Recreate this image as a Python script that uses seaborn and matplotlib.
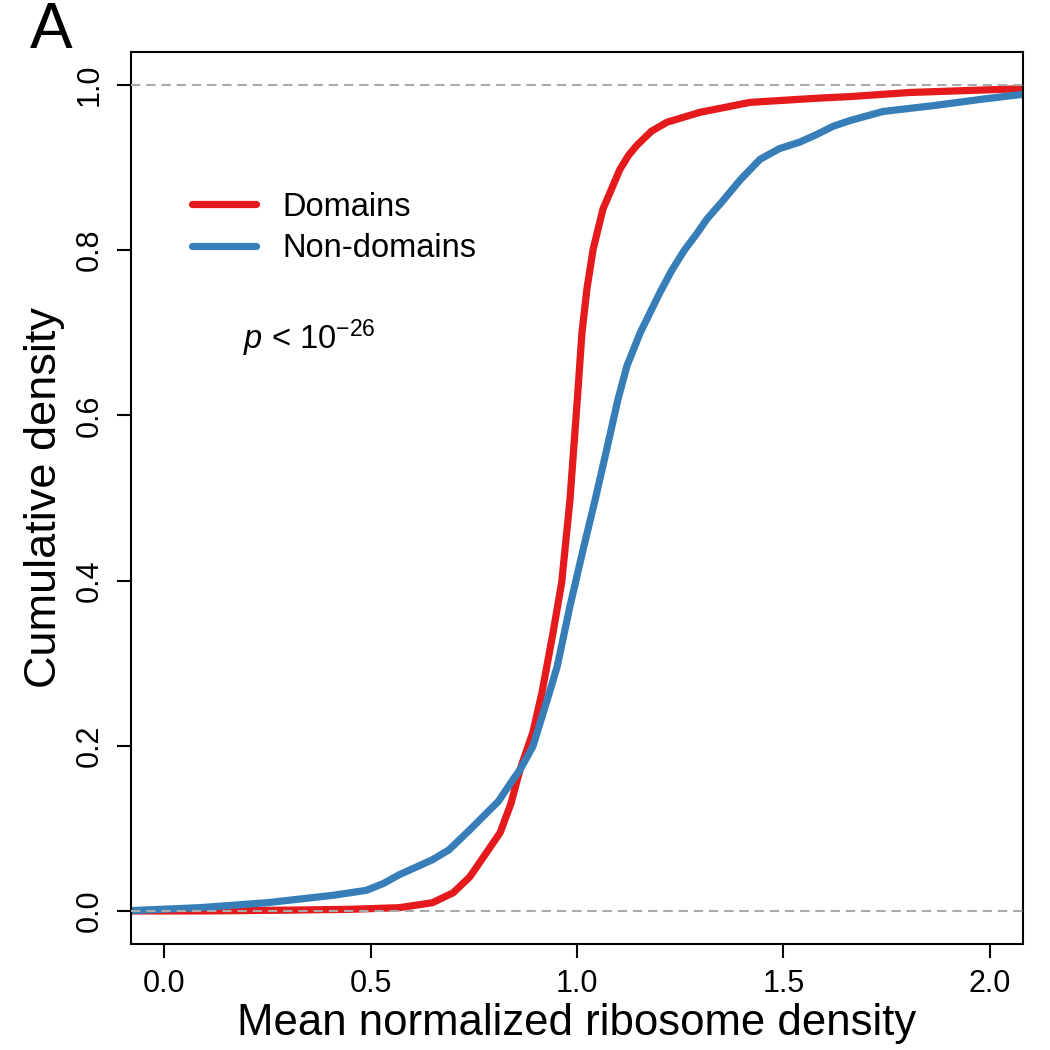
import numpy as np
import pandas as pd
import matplotlib
matplotlib.use("Agg")
import matplotlib.pyplot as plt
import seaborn as sns

# ---- data (cumulative density curves) ----
domains_x = [-0.1, 0.1, 0.3, 0.45, 0.57, 0.65, 0.70, 0.74, 0.78, 0.814, 0.84, 0.862, 0.893,
             0.915, 0.942, 0.963, 0.983, 1.002, 1.012, 1.024, 1.039, 1.063, 1.104, 1.125,
             1.145, 1.18, 1.218, 1.298, 1.419, 1.58, 1.661, 1.806, 2.1]
domains_y = [0.0, 0.0, 0.001, 0.002, 0.004, 0.010, 0.022, 0.041, 0.070, 0.095, 0.130, 0.171, 0.216,
             0.264, 0.337, 0.398, 0.498, 0.628, 0.700, 0.753, 0.801, 0.850, 0.898, 0.915,
             0.927, 0.944, 0.955, 0.967, 0.979, 0.984, 0.986, 0.991, 0.996]

nondomains_x = [-0.1, 0.087, 0.25, 0.41, 0.49, 0.53, 0.57, 0.61, 0.65, 0.69, 0.74, 0.81, 0.845,
                0.862, 0.893, 0.93, 0.952, 0.983, 1.015, 1.044, 1.072, 1.099, 1.121, 1.153,
                1.201, 1.23, 1.26, 1.29, 1.315, 1.35, 1.395, 1.443, 1.49, 1.54, 1.58, 1.62,
                1.661, 1.741, 1.862, 1.983, 2.1]
nondomains_y = [0.0, 0.004, 0.010, 0.019, 0.025, 0.033, 0.044, 0.053, 0.062, 0.074, 0.098, 0.133, 0.159,
                0.171, 0.199, 0.259, 0.296, 0.369, 0.438, 0.498, 0.559, 0.619, 0.660, 0.700,
                0.749, 0.776, 0.800, 0.820, 0.838, 0.858, 0.885, 0.910, 0.923, 0.931, 0.940,
                0.950, 0.957, 0.968, 0.975, 0.983, 0.990]

series_names = ["Domains", "Non-domains"]
series_colors = ["#E41A1C", "#377EB8"]
x_ticks = [0.0, 0.5, 1.0, 1.5, 2.0]
x_tick_labels = ["0.0", "0.5", "1.0", "1.5", "2.0"]
y_ticks = [0.0, 0.2, 0.4, 0.6, 0.8, 1.0]
y_tick_labels = ["0.0", "0.2", "0.4", "0.6", "0.8", "1.0"]
ref_lines = [0.0, 1.0]

df = pd.concat([
    pd.DataFrame({"x": domains_x, "y": domains_y, "group": series_names[0]}),
    pd.DataFrame({"x": nondomains_x, "y": nondomains_y, "group": series_names[1]}),
], ignore_index=True)

sns.set_theme(style="ticks")
plt.rcParams["font.family"] = ["Liberation Sans", "DejaVu Sans"]
plt.rcParams["mathtext.fontset"] = "custom"
plt.rcParams["mathtext.rm"] = "Liberation Sans"
plt.rcParams["mathtext.it"] = "Liberation Sans:italic"
plt.rcParams["text.color"] = "black"
plt.rcParams["axes.labelcolor"] = "black"

fig = plt.figure(figsize=(10.5, 10.5), dpi=100)
ax = fig.add_axes([131 / 1050, 1 - 944 / 1050, (1023 - 131) / 1050, (944 - 52) / 1050])

sns.lineplot(data=df, x="x", y="y", hue="group", hue_order=series_names,
             palette=dict(zip(series_names, series_colors)), sort=False,
             estimator=None, linewidth=5.2, ax=ax, legend=True)

for yv in ref_lines:
    ax.axhline(yv, color="#AAAAAA", lw=1.5, dashes=(4.5, 2.8), zorder=5)

ax.set_xlim(-0.08, 2.08)
ax.set_ylim(-0.04, 1.04)
ax.set_xticks(x_ticks)
ax.set_xticklabels(x_tick_labels)
ax.set_yticks(y_ticks)
ax.set_yticklabels(y_tick_labels)
for lab in ax.get_yticklabels():
    lab.set_rotation(90)
    lab.set_va("center")

ax.tick_params(axis="both", length=10, width=1.5, color="black", labelsize=22,
               labelcolor="black", direction="out")
ax.tick_params(axis="x", pad=8)
ax.tick_params(axis="y", pad=9)
for sp in ax.spines.values():
    sp.set_visible(True)
    sp.set_linewidth(1.5)
    sp.set_color("black")

ax.set_xlabel("Mean normalized ribosome density", fontsize=31.5, color="black")
ax.set_ylabel("Cumulative density", fontsize=32.5, color="black")
ax.xaxis.set_label_coords(0.5, -0.066)
ax.yaxis.set_label_coords(-0.074, 0.5)

handles, labels = ax.get_legend_handles_labels()
leg = ax.legend(handles, labels, loc="upper left", bbox_to_anchor=(0.054, 0.858),
                frameon=False, fontsize=23.5, handlelength=1.95, handletextpad=0.8,
                labelspacing=0.32, borderaxespad=0)
for h in leg.get_lines():
    h.set_linewidth(5.2)
for t in leg.get_texts():
    t.set_color("black")

ax.text(0.191, 0.68, r"$p$ < 10$^{-26}$", fontsize=23.5, color="black",
        ha="left", va="baseline")

fig.text(30 / 1050, 1 - 1 / 1050, "A", fontsize=46, color="black", ha="left", va="top")

fig.savefig("out.png", dpi=100, facecolor="white")
